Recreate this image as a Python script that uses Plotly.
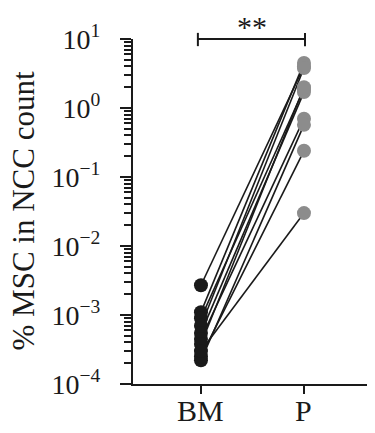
import plotly.graph_objects as go

groups = ["BM", "P"]
bm_values = [0.0027, 0.0011, 0.0009, 0.0007, 0.00055, 0.00045, 0.00038, 0.00022, 0.00025, 0.0003]
p_values = [4.0, 4.5, 1.9, 3.8, 1.7, 0.70, 2.0, 0.57, 0.24, 0.030]
ytick_vals = [1e-4, 1e-3, 1e-2, 1e-1, 1e0, 1e1]
ytick_text = ["10<sup>\u22124</sup>", "10<sup>\u22123</sup>", "10<sup>\u22122</sup>",
              "10<sup>\u22121</sup>", "10<sup>0</sup>", "10<sup>1</sup>"]
signif_text = "**"
y_title = "% MSC in NCC count"

FONT = "Liberation Serif"
INK = "#1a1a1a"
# page body has an 8px default margin: compensate in figure size / margins
fig = go.Figure()
for b, p in zip(bm_values, p_values):
    fig.add_trace(go.Scatter(x=[0, 1], y=[b, p], mode="lines",
                             line=dict(color=INK, width=1.6),
                             showlegend=False, hoverinfo="skip"))
fig.add_trace(go.Scatter(x=[0] * len(bm_values), y=bm_values, mode="markers",
                         marker=dict(color=INK, size=14, line=dict(width=0)),
                         showlegend=False))
fig.add_trace(go.Scatter(x=[1] * len(p_values), y=p_values, mode="markers",
                         marker=dict(color="#8c8c8c", size=14, line=dict(width=0)),
                         showlegend=False))

fig.update_layout(
    width=367, height=425,
    margin=dict(l=125, r=1, t=31, b=49),
    paper_bgcolor="white", plot_bgcolor="white",
    font=dict(family=FONT, color=INK),
    xaxis=dict(range=[-0.66, 1.68], tickvals=[0, 1], showticklabels=False,
               showgrid=False, zeroline=False, showline=True, linecolor=INK,
               linewidth=2, ticks="outside", ticklen=8, tickwidth=1.5,
               tickcolor=INK),
    yaxis=dict(type="log", range=[-4, 1], tickvals=ytick_vals, ticktext=ytick_text,
               showgrid=False, zeroline=False, showline=True, linecolor=INK,
               linewidth=2, ticks="outside", ticklen=11, tickwidth=2,
               tickcolor=INK, tickfont=dict(size=28, family=FONT),
               ticklabelstandoff=14,
               minor=dict(ticks="outside", ticklen=7, tickwidth=1.5,
                          tickcolor=INK, dtick="D1", showgrid=False)),
)

# x category labels
for i, g in enumerate(groups):
    fig.add_annotation(x=i, xref="x", y=0, yref="paper", text=g, showarrow=False,
                       yanchor="top", yshift=-8,
                       font=dict(size=30, family=FONT, color=INK))

# y-axis title
fig.add_annotation(x=-110 / 241, xref="paper", y=0.5, yref="paper",
                   text=y_title, textangle=-90, showarrow=False,
                   xanchor="center", yanchor="middle", borderpad=0,
                   font=dict(size=31, family=FONT, color=INK))

# significance bracket
fig.add_shape(type="line", xref="x", yref="paper", x0=-0.03, x1=1.01, y0=1.0, y1=1.0,
              line=dict(color=INK, width=2))
for xx in [-0.03, 1.01]:
    fig.add_shape(type="line", xref="x", yref="paper", x0=xx, x1=xx, y0=1.0 - 7 / 338,
                  y1=1.0 + 6 / 338, line=dict(color=INK, width=2))
fig.add_annotation(x=0.5, xref="x", y=1.0, yref="paper", text=signif_text,
                   showarrow=False, yanchor="bottom", yshift=-6,
                   font=dict(size=30, family=FONT, color=INK))

fig.write_html("out.html")
